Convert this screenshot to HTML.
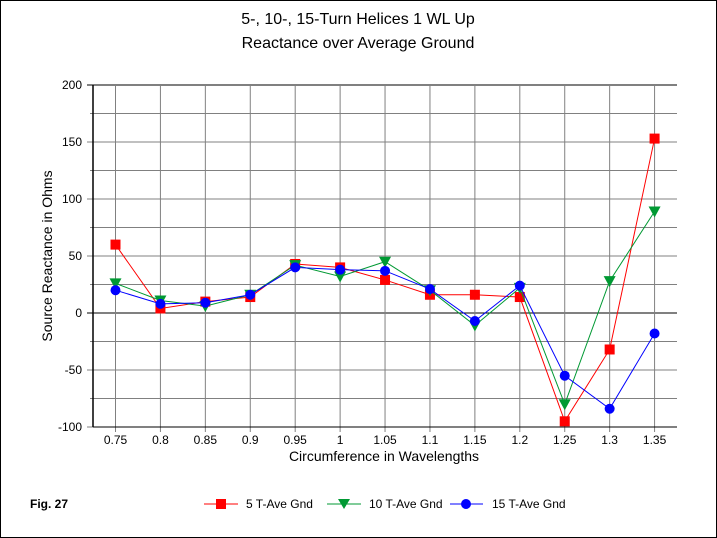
<!DOCTYPE html>
<html><head><meta charset="utf-8"><style>
body{margin:0;background:#fff}
svg{display:block;font-family:"Liberation Sans",Arial,sans-serif}
</style></head><body>
<svg id="c" width="717" height="538" viewBox="0 0 717 538">
<rect x="0.5" y="0.5" width="716" height="537" fill="#fff" stroke="#000"/>
<text x="358" y="24" font-size="16" text-anchor="middle">5-, 10-, 15-Turn Helices 1 WL Up</text>
<text x="358" y="48" font-size="16" text-anchor="middle">Reactance over Average Ground</text>
<g id="grid"></g><g id="series"></g>
<text x="384" y="461" font-size="14" text-anchor="middle">Circumference in Wavelengths</text>
<text transform="translate(52,256) rotate(-90)" font-size="14" text-anchor="middle">Source Reactance in Ohms</text>
<text x="30" y="508" font-size="12" font-weight="bold">Fig. 27</text>
<g>
<g><line x1="204" y1="504" x2="238" y2="504" stroke="#f00" stroke-width="1"/><rect x="216" y="499" width="10" height="10" fill="#f00"/><text x="246" y="508" font-size="12">5 T-Ave Gnd</text></g>
<g><line x1="327" y1="504" x2="361" y2="504" stroke="#093" stroke-width="1"/><polygon points="338,499 350,499 344,509" fill="#093"/><text x="369" y="508" font-size="12">10 T-Ave Gnd</text></g>
<g><line x1="450" y1="504" x2="483" y2="504" stroke="#00f" stroke-width="1"/><circle cx="466" cy="504" r="5" fill="#00f"/><text x="492" y="508" font-size="12">15 T-Ave Gnd</text></g>
</g>
</svg>
<script>
const categories=["0.75","0.8","0.85","0.9","0.95","1","1.05","1.1","1.15","1.2","1.25","1.3","1.35"];
const s5=[60,4,10,14,43,40,29,16,16,14,-95,-32,153];
const s10=[26,11,6,16,42,32,45,20,-11,22,-80,28,89];
const s15=[20,8,9,16,40,38,37,21,-7,24,-55,-84,-18];
const yTicks=[-100,-50,0,50,100,150,200];
const L=93,R=677,T=85,B=427,yMin=-100,yMax=200;
const xs=i=>L+22.5+i*(R-L)/categories.length;
const ys=v=>B-(v-yMin)/(yMax-yMin)*(B-T);
const NS="http://www.w3.org/2000/svg";
function mk(p,t,a){const e=document.createElementNS(NS,t);for(const k in a)e.setAttribute(k,a[k]);p.appendChild(e);return e;}
const g=document.getElementById('grid');
for(let v=yMin;v<=yMax;v+=25){const y=ys(v);const major=v%50===0;
 const l=mk(g,'line',{x1:major?87:90,x2:R,y1:y,y2:y,stroke:v===0?'#000':(v===yMax?'#000':'#808080'),'stroke-width':1});
 
 }
yTicks.forEach(v=>{const t=mk(g,'text',{x:82,y:ys(v)+4,'font-size':12,'text-anchor':'end'});t.textContent=v;
 
 });
categories.forEach((c,i)=>{const x=xs(i);
 const l=mk(g,'line',{x1:x,x2:x,y1:T,y2:B+5,stroke:'#808080','stroke-width':1});
 
 
 const t=mk(g,'text',{x:x,y:B+17,'font-size':12,'text-anchor':'middle'});t.textContent=c;
 
 });
const ax=mk(g,'line',{x1:L,x2:L,y1:T,y2:B,stroke:'#000','stroke-width':1.5});


const bx=mk(g,'line',{x1:L,x2:R,y1:B,y2:B,stroke:'#000','stroke-width':1});


const sg=document.getElementById('series');
function draw(data,color,shape,name){
 const pl=mk(sg,'polyline',{points:data.map((v,i)=>xs(i)+','+ys(v)).join(' '),fill:'none',stroke:color,'stroke-width':1});
 
 
 data.forEach((v,i)=>{const x=xs(i),y=ys(v);let m;
  if(shape==='sq')m=mk(sg,'rect',{x:x-5,y:y-5,width:10,height:10,fill:color});
  else if(shape==='tri')m=mk(sg,'polygon',{points:`${x-6},${y-5} ${x+6},${y-5} ${x},${y+6}`,fill:color});
  else m=mk(sg,'circle',{cx:x,cy:y,r:5,fill:color});
  
  });
}
draw(s5,'#f00','sq','series-5t');
draw(s10,'#093','tri','series-10t');
draw(s15,'#00f','circ','series-15t');
</script>
</body></html>
